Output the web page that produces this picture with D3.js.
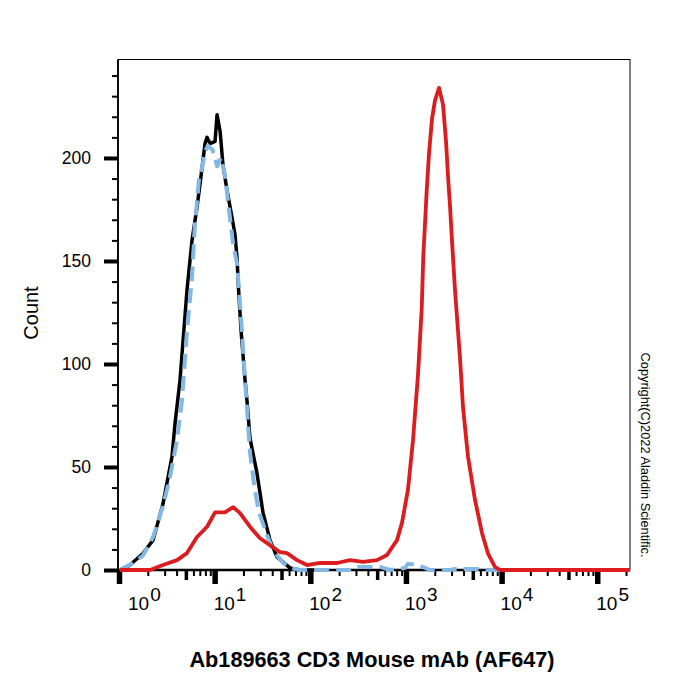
<!doctype html>
<html>
  <head>
    <meta charset="utf-8"/>
    <title>Ab189663 CD3 Mouse mAb (AF647)</title>
    <style>
      body, html {
        font-family: "Liberation Sans", Arial, sans-serif;
        padding: 0;
        margin: 0;
        border: 0;
        background: #fff;
      }
      svg { display: block; }
      .tick text { font-family: "Liberation Sans", Arial, sans-serif; }
    </style>
    <script src="https://d3js.org/d3.v7.min.js"></script>
  </head>
  <body>
    <svg id="chart" width="700" height="700"></svg>

    <script>
      // black: unstained cells
      var blankIntensity = [1.02, 1.30, 1.78, 2.27, 2.88, 3.58, 3.85, 4.34, 5.14, 5.80, 6.54, 7.38, 7.93, 8.32, 8.94, 10.1, 10.6, 11.4, 12.2, 13.5, 15.2, 16.3, 17.1, 17.8, 18.9, 20.8, 21.8, 23.4, 27.7, 32.0, 37.9, 44.9, 61.3, 78, 150];
      var blankCount     = [0, 2.4, 8, 14.5, 32, 55, 71, 92, 136, 160, 176, 195, 207, 210, 207, 208, 221, 213, 197, 184, 171, 163, 152, 136, 116, 92, 82, 64, 47, 28, 14.5, 6.3, 1, 0, 0];

      // blue dashed: isotype control
      var isotypeIntensity = [1.02, 1.40, 1.78, 2.27, 2.88, 3.41, 4.04, 4.55, 5.14, 5.80, 6.20, 6.90, 7.38, 7.93, 8.51, 9.50, 10.6, 11.6, 12.8, 13.8, 15.6, 17.1, 18.0, 19.3, 20.8, 23.4, 26.3, 29.0, 35.3, 40.7, 51.9, 61.3, 78, 260, 315, 536, 681, 977, 1050, 1337, 1585, 1780, 2890, 3260, 5670, 6700, 2.2e5];
      var isotypeCount     = [0, 3.4, 7, 16, 31, 45, 63, 82, 116, 142, 167, 191, 195, 203, 206, 204, 196, 200, 192, 179, 158, 149, 136, 116, 92, 57, 39, 28, 17, 9.7, 3.4, 1, 0, 0, 1.5, 1.5, 0, 1, 3, 2.4, 1, 0, 0, 0.5, 0.5, 0, 0];

      // red: CD3 stained
      var stainedIntensity = [1.02, 2.11, 2.88, 4.04, 5.14, 6.54, 8.32, 10.1, 12.8, 15.6, 18.4, 23.4, 29.6, 37.9, 48.2, 57.1, 72.6, 92.4, 126, 190, 260, 356, 498, 634, 806, 910, 1050, 1185, 1337, 1462, 1518, 1648, 1741, 1872, 2013, 2217, 2439, 2624, 2754, 2886, 3028, 3256, 3674, 3949, 4454, 5272, 6238, 7210, 8530, 9620, 2.2e5];
      var stainedCount     = [0, 0, 2.4, 4.8, 8.2, 16, 21, 28, 28, 30.5, 27.6, 21, 15.5, 12, 8.7, 8.2, 4.8, 2.4, 3.4, 3.4, 4.8, 3.9, 4.8, 7.3, 14.5, 23, 39, 63, 95, 127, 152, 184, 202, 219, 228, 234, 226, 208, 191, 177, 160, 136, 103, 79, 55, 34, 18, 8, 1.5, 0, 0];

      var yMajorTicks = [0, 50, 100, 150, 200];
      var xDecades = [1, 10, 100, 1000, 10000, 100000];
      var xDecadeLabels = ["0", "1", "2", "3", "4", "5"];

      var svg = d3.select("#chart");
      var plotLeft = 118, plotRight = 630, plotTop = 59.5, plotBottom = 570;

      var x = d3.scaleLog().domain([1, 2.2e5]).range([plotLeft + 1, plotRight]);
      var y = d3.scaleLinear().domain([0, 247.8]).range([plotBottom, plotTop]);

      function zip(xs, ys) {
        return xs.map(function(v, i) { return [v, ys[i]]; });
      }

      // minor ticks
      var yMinor = d3.range(10, 241, 10).filter(function(v) { return v % 50 !== 0; });
      var xMid = [], xMinor = [];
      xDecades.forEach(function(d) {
        for (var k = 2; k <= 9; k++) {
          if (d * k > 2.2e5) continue;
          if (k === 5) xMid.push(d * k); else xMinor.push(d * k);
        }
      });

      // frame
      svg.append("rect")
        .attr("x", plotLeft).attr("y", plotTop)
        .attr("width", plotRight - plotLeft).attr("height", plotBottom - plotTop)
        .attr("fill", "none").attr("stroke", "#000").attr("stroke-width", 1);

      function styleAxis(g, w) {
        g.select(".domain").remove();
        g.selectAll(".tick line").attr("stroke", "#000").attr("stroke-width", w);
      }

      // y axis
      svg.append("g")
        .attr("transform", "translate(" + plotLeft + ",0)")
        .call(d3.axisLeft(y).tickValues(yMinor).tickSize(6).tickFormat(""))
        .call(styleAxis, 2);
      svg.append("g")
        .attr("transform", "translate(" + plotLeft + ",0)")
        .call(d3.axisLeft(y).tickValues(yMajorTicks).tickSize(14).tickPadding(13))
        .call(styleAxis, 4)
        .selectAll("text")
          .attr("font-size", 17.5).attr("fill", "#000");
      svg.append("line")
        .attr("x1", plotLeft).attr("x2", plotLeft).attr("y1", plotTop).attr("y2", plotBottom + 1)
        .attr("stroke", "#000").attr("stroke-width", 1.8);

      // x axis
      svg.append("g")
        .attr("transform", "translate(0," + plotBottom + ")")
        .call(d3.axisBottom(x).tickValues(xMinor).tickSize(6).tickFormat(""))
        .call(styleAxis, 2);
      svg.append("g")
        .attr("transform", "translate(0," + plotBottom + ")")
        .call(d3.axisBottom(x).tickValues(xMid).tickSize(10).tickFormat(""))
        .call(styleAxis, 3.5);
      svg.append("g")
        .attr("transform", "translate(0," + plotBottom + ")")
        .call(d3.axisBottom(x).tickValues(xDecades).tickSize(14).tickFormat(""))
        .call(styleAxis, 5.5);
      svg.append("line")
        .attr("x1", plotLeft).attr("x2", plotRight).attr("y1", plotBottom).attr("y2", plotBottom)
        .attr("stroke", "#000").attr("stroke-width", 2.5);

      // decade labels 10^n
      var lab = svg.append("g").attr("font-size", 19).attr("fill", "#000");
      xDecades.forEach(function(d, i) {
        var t = lab.append("text")
          .attr("x", Math.max(x(d) - 1, plotLeft + 10))
          .attr("y", 610);
        t.append("tspan").text("10");
        t.append("tspan").attr("dx", 1).attr("dy", -9).text(xDecadeLabels[i]);
      });

      // curves
      var line = d3.line()
        .x(function(d) { return x(d[0]); })
        .y(function(d) { return y(d[1]); });

      var plot = svg.append("g")
        .attr("fill", "none")
        .attr("stroke-linejoin", "round")
        .attr("stroke-linecap", "butt");

      plot.append("path")
        .attr("d", line(zip(blankIntensity, blankCount)))
        .attr("stroke", "#000").attr("stroke-width", 3.5);
      plot.append("path")
        .attr("d", line(zip(isotypeIntensity, isotypeCount)))
        .attr("stroke", "#84b8e4").attr("stroke-width", 4)
        .attr("stroke-dasharray", "15,7");
      plot.append("path")
        .attr("d", line(zip(stainedIntensity, stainedCount)))
        .attr("stroke", "#dd1c1f").attr("stroke-width", 3.8);

      // titles
      svg.append("text")
        .attr("transform", "translate(38,313) rotate(-90)")
        .attr("text-anchor", "middle")
        .attr("font-size", 20)
        .text("Count");
      svg.append("text")
        .attr("x", 372).attr("y", 667)
        .attr("text-anchor", "middle")
        .attr("font-size", 21.7).attr("font-weight", "bold")
        .text("Ab189663 CD3 Mouse mAb (AF647)");
      svg.append("text")
        .attr("transform", "translate(641,455) rotate(90)")
        .attr("text-anchor", "middle")
        .attr("font-size", 12.8)
        .text("Copyright(C)2022 Aladdin Scientific.");
    </script>
  </body>
</html>
